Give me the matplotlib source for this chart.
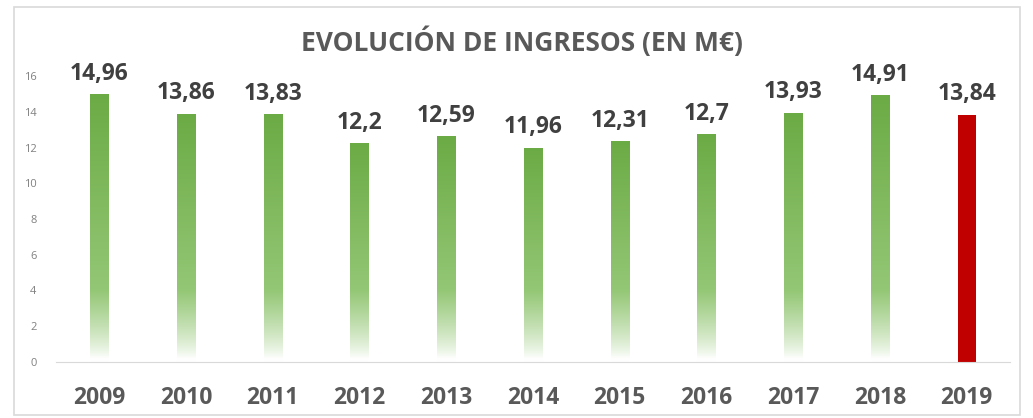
import numpy as np
import matplotlib.pyplot as plt
from matplotlib.patches import Rectangle

plt.rcParams['font.family'] = ['Open Sans', 'DejaVu Sans']

# Data
years = ['2009', '2010', '2011', '2012', '2013', '2014', '2015', '2016', '2017', '2018', '2019']
ingresos = [14.96, 13.86, 13.83, 12.2, 12.59, 11.96, 12.31, 12.7, 13.93, 14.91, 13.84]
labels = ['14,96', '13,86', '13,83', '12,2', '12,59', '11,96', '12,31', '12,7', '13,93', '14,91', '13,84']
highlight = '2019'

fig = plt.figure(figsize=(10.33, 4.18), dpi=100)
ax = fig.add_axes([56 / 1033, 56 / 418, 954 / 1033, 286 / 418])

# outer frame of the chart area
fig.patches.append(Rectangle((14 / 1033, 3 / 418), 1006 / 1033, 408 / 418,
                             transform=fig.transFigure, fill=False,
                             edgecolor='#d9d9d9', linewidth=1.2))


def green_gradient(h, n=300):
    # colour depends on the height in data units: solid green on top, fading to white near the base
    y = np.linspace(0, h, n)
    top = np.array([0.42, 0.67, 0.27])
    mid = np.array([0.58, 0.78, 0.46])
    white = np.array([1.0, 1.0, 1.0])
    rgb = np.zeros((n, 3))
    for i, v in enumerate(y):
        if v >= 4.0:
            t = (v - 4.0) / max(h - 4.0, 1e-6)
            rgb[i] = mid + (top - mid) * t
        else:
            t = max(v - 0.2, 0) / 3.8
            t = t ** 0.8
            rgb[i] = white * (1 - t) * 0.97 + mid * t + (1 - t) * 0.03 * np.array([0.9, 0.96, 0.88])
    return rgb[::-1][:, None, :]


w = 0.21
x = np.arange(len(years))
for xi, yr, v, lab in zip(x, years, ingresos, labels):
    if yr == highlight:
        ax.bar(xi, v, width=w, color='#c00000', zorder=2)
    else:
        ax.imshow(green_gradient(v), extent=(xi - w / 2, xi + w / 2, 0, v),
                  aspect='auto', interpolation='bilinear', zorder=2)
    ax.text(xi, v + 0.5, lab, ha='center', va='bottom', fontsize=16.5,
            fontweight='bold', color='#404040', clip_on=False)

ax.set_xlim(-0.5, len(years) - 0.5)
ax.set_ylim(0, 16)
ax.set_yticks(range(0, 17, 2))
ax.set_xticks(x)
ax.set_xticklabels(years, fontsize=16.5, fontweight='bold', color='#595959')
ax.tick_params(axis='y', length=0, labelsize=8, labelcolor='#808080', pad=14)
ax.tick_params(axis='x', length=0, pad=17)
for s in ['top', 'right', 'left']:
    ax.spines[s].set_visible(False)
ax.spines['bottom'].set_color('#d9d9d9')

fig.text(522 / 1033, 1 - 42 / 418, 'EVOLUCIÓN DE INGRESOS (EN M€)', ha='center', va='center',
         fontsize=19, fontweight='bold', color='#595959')

fig.savefig('out.png', dpi=100)
